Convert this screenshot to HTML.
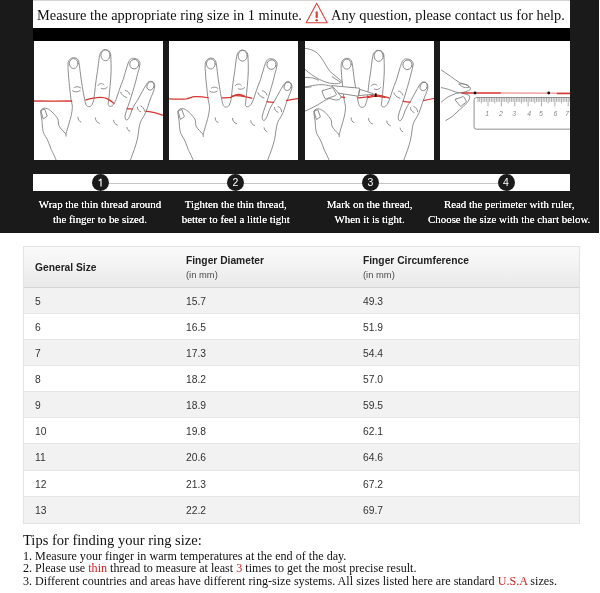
<!DOCTYPE html>
<html><head><meta charset="utf-8">
<style>
*{margin:0;padding:0;box-sizing:border-box}
html,body{width:600px;height:593px;overflow:hidden;background:#fff}
body{position:relative;will-change:transform;font-family:"Liberation Sans",sans-serif;color:#222}
#dark{position:absolute;left:0;top:0;width:599px;height:233px;background:#1a1a1a}
#strip{position:absolute;left:33px;top:0;width:537px;height:41px;background:#000}
#hdr{position:absolute;left:33px;top:0;width:537px;height:28px;border-top:1px solid #d4d4d4;background:#fff;font-family:"Liberation Serif",serif;font-size:15px;color:#111;line-height:27px;white-space:nowrap}
#hdr span{position:absolute;top:1px;transform:scaleX(.958);transform-origin:0 0}
.panel svg{filter:blur(.35px)}
.panel{position:absolute;top:41px;height:119px;background:#fff;overflow:hidden}
#bar{position:absolute;left:33px;top:174px;width:537px;height:17px;background:#fff}
#bar .ln{position:absolute;left:67px;top:9px;width:406px;height:1px;background:#c4c4c4}
.c{position:absolute;top:174px;width:17px;height:17px;border-radius:8.5px;background:#1a1a1a;color:#fff;font-size:10.5px;line-height:17px;text-align:center}
.cap{position:absolute;font-family:"Liberation Serif",serif;color:#fff;font-size:10.9px;line-height:15.3px;text-shadow:0 0 .6px #fff;text-align:center;white-space:nowrap;width:200px}
#tbl{position:absolute;left:23px;top:246px;width:557px;height:278px;border:1px solid #e3e3e3;background:#fff}
.th{position:absolute;left:0;top:0;width:555px;height:41px;background:linear-gradient(#fafafa,#f3f3f3 45%,#e9e9e9);border-bottom:1px solid #d6d6d6}
.r{position:absolute;left:0;width:555px;height:26px;border-bottom:1px solid #e6e6e6;font-size:10.3px;line-height:27px;color:#333}
.r.o{background:#f2f2f2}
.r:last-child{border-bottom:0}
.r span,.th span{position:absolute;white-space:nowrap}
.th b{font-size:10.25px;color:#222}
.th i{font-style:normal;font-size:9.4px;color:#4a4a4a}
#tips{position:absolute;left:23px;top:531px;font-family:"Liberation Serif",serif;color:#111;white-space:nowrap}
#tips h3{font-weight:normal;font-size:14.5px;line-height:19px}
#tips p{font-size:12.12px;line-height:12.45px}
.red{color:#c22}
</style></head><body>
<div id="dark"></div>
<div id="strip"></div>
<div id="hdr"><span style="left:4px">Measure the appropriate ring size in 1 minute.</span><svg style="position:absolute;left:271px;top:0" width="26" height="27" viewBox="0 0 26 27" fill="none"><path d="M12.7 2.2L2.2 21.8H23.2Z" stroke="#d9433d" stroke-width="1.1" stroke-linejoin="round"/><path d="M12.7 11.3V16.2" stroke="#d9433d" stroke-width="2.2" stroke-linecap="round"/><circle cx="12.7" cy="19.3" r="1.2" fill="#d9433d"/></svg><span style="left:298px">Any question, please contact us for help.</span></div>
<div class="panel" id="p1" style="left:34px;width:129px"><svg viewBox="0 0 600 554" width="130" height="120" style="position:absolute;left:0;top:0" fill="none" stroke="#808080" stroke-width="4.1" stroke-linecap="round" stroke-linejoin="round">
<path d="M103 552C92 525 84 510 79 500C72 480 66 465 61 454C50 435 44 427 42 417C38 400 38 385 37 370L31 332C29 318 38 310 48 310C58 310 66 314 70 317C80 323 88 332 93 338C102 348 110 358 112 366C113 375 112 382 114 389C118 398 125 406 131 412L147 429L148 439"/>
<path d="M147 429C152 415 156 400 159 389C165 370 170 352 173 338C176 320 177 310 177 300C176 290 173 280 171 271C168 250 166 230 164 210C161 185 159 160 158 140C157 128 156 118 157 107C158 88 170 77 183 77C197 77 205 85 207 97C210 112 211 126 213 140C216 165 219 188 223 210C226 232 230 252 234 271C236 282 238 290 241 296C246 306 262 306 268 294C272 286 274 278 276 271C279 250 281 230 283 210C286 185 289 162 293 140C296 115 299 92 302 70C306 50 316 40 328 40C342 40 352 48 354 62C356 88 356 114 356 140C355 165 353 188 351 210C349 232 347 252 345 271C344 280 342 287 342 293C344 304 358 304 364 296C367 292 368 291 370 289C374 282 376 276 379 270C384 256 388 242 393 228C399 210 405 194 412 177C418 156 424 136 430 116C433 106 436 97 440 90C446 82 452 79 459 80C470 80 479 84 484 90C488 95 490 101 489 108C487 122 483 135 479 149C474 170 469 190 463 209C458 225 454 241 449 256C444 272 438 290 433 304C428 318 423 332 420 347C420 360 424 366 429 365C435 362 439 354 442 347C446 336 450 325 454 314C460 300 468 288 477 275C485 261 492 247 500 233C506 222 512 211 519 200C524 191 530 186 538 186C546 186 551 190 554 195C558 203 558 211 556 219C552 232 547 244 542 256C535 275 528 292 524 307C520 322 514 335 507 347C500 357 495 366 491 375C487 386 486 397 484 408C482 424 480 439 477 454C473 470 468 486 463 501C457 518 450 534 444 552"/>
<ellipse cx="183" cy="104" rx="20" ry="23"/>
<ellipse cx="330" cy="66" rx="21" ry="25"/>
<ellipse cx="463" cy="107" rx="21" ry="22" transform="rotate(15 463 107)"/>
<ellipse cx="538" cy="207" rx="16" ry="20" transform="rotate(20 538 207)"/>
<path d="M33 321L49 314L61 347L44 359Z"/>
<path d="M185 216C190 210 205 208 216 217M178 230C188 237 203 237 213 229"/>
<path d="M295 205C300 196 315 192 323 202M311 219C320 224 332 221 339 212"/>
<path d="M400 237C401 245 415 258 428 261M421 228C430 228 440 238 442 247"/>
<path d="M477 305C476 315 485 325 493 327M493 300C502 302 510 314 510 324"/>
<path d="M203 352C202 362 209 372 216 374"/>
<path d="M283 355C283 367 292 378 302 380"/>
<path d="M367 366C367 376 376 386 384 388"/>
<path d="M429 399C429 407 435 414 442 416"/>
<g stroke="#d8352f" stroke-width="5.8" stroke-linecap="butt">
<path d="M0 277C60 278 120 278 176 277"/>
<path d="M237 273C250 269 262 266 274 264C285 262 296 260 307 260C320 260 330 262 339 267C350 273 360 281 370 289"/>
<path d="M428 312L456 314"/>
<path d="M514 324C528 326 542 328 556 331C570 334 582 338 600 345"/>
</g>
</svg></div>
<div class="panel" id="p2" style="left:169px;width:129px"><svg viewBox="0 0 600 554" width="130" height="120" style="position:absolute;left:0;top:0" fill="none" stroke="#808080" stroke-width="4.1" stroke-linecap="round" stroke-linejoin="round">
<g transform="translate(10 2)"><path d="M103 552C92 525 84 510 79 500C72 480 66 465 61 454C50 435 44 427 42 417C38 400 38 385 37 370L31 332C29 318 38 310 48 310C58 310 66 314 70 317C80 323 88 332 93 338C102 348 110 358 112 366C113 375 112 382 114 389C118 398 125 406 131 412L147 429L148 439"/>
<path d="M147 429C152 415 156 400 159 389C165 370 170 352 173 338C176 320 177 310 177 300C176 290 173 280 171 271C168 250 166 230 164 210C161 185 159 160 158 140C157 128 156 118 157 107C158 88 170 77 183 77C197 77 205 85 207 97C210 112 211 126 213 140C216 165 219 188 223 210C226 232 230 252 234 271C236 282 238 290 241 296C246 306 262 306 268 294C272 286 274 278 276 271C279 250 281 230 283 210C286 185 289 162 293 140C296 115 299 92 302 70C306 50 316 40 328 40C342 40 352 48 354 62C356 88 356 114 356 140C355 165 353 188 351 210C349 232 347 252 345 271C344 280 342 287 342 293C344 304 358 304 364 296C367 292 368 291 370 289C374 282 376 276 379 270C384 256 388 242 393 228C399 210 405 194 412 177C418 156 424 136 430 116C433 106 436 97 440 90C446 82 452 79 459 80C470 80 479 84 484 90C488 95 490 101 489 108C487 122 483 135 479 149C474 170 469 190 463 209C458 225 454 241 449 256C444 272 438 290 433 304C428 318 423 332 420 347C420 360 424 366 429 365C435 362 439 354 442 347C446 336 450 325 454 314C460 300 468 288 477 275C485 261 492 247 500 233C506 222 512 211 519 200C524 191 530 186 538 186C546 186 551 190 554 195C558 203 558 211 556 219C552 232 547 244 542 256C535 275 528 292 524 307C520 322 514 335 507 347C500 357 495 366 491 375C487 386 486 397 484 408C482 424 480 439 477 454C473 470 468 486 463 501C457 518 450 534 444 552"/>
<ellipse cx="183" cy="104" rx="20" ry="23"/>
<ellipse cx="330" cy="66" rx="21" ry="25"/>
<ellipse cx="463" cy="107" rx="21" ry="22" transform="rotate(15 463 107)"/>
<ellipse cx="538" cy="207" rx="16" ry="20" transform="rotate(20 538 207)"/>
<path d="M33 321L49 314L61 347L44 359Z"/>
<path d="M185 216C190 210 205 208 216 217M178 230C188 237 203 237 213 229"/>
<path d="M295 205C300 196 315 192 323 202M311 219C320 224 332 221 339 212"/>
<path d="M400 237C401 245 415 258 428 261M421 228C430 228 440 238 442 247"/>
<path d="M477 305C476 315 485 325 493 327M493 300C502 302 510 314 510 324"/>
<path d="M203 352C202 362 209 372 216 374"/>
<path d="M283 355C283 367 292 378 302 380"/>
<path d="M367 366C367 376 376 386 384 388"/>
<path d="M429 399C429 407 435 414 442 416"/>
</g>
<g stroke="#d8352f" stroke-width="5.8" stroke-linecap="butt">
<path d="M0 267C30 268 60 268 80 267C95 264 105 258 120 257C135 256 150 257 183 262"/>
<path d="M243 263C260 262 272 262 285 260C292 257 295 253 300 252C310 251 320 252 330 253C337 254 343 255 350 257C362 259 374 262 385 265"/>
<path d="M290 257C300 252 310 247 320 247C332 247 342 251 350 255"/>
<path d="M450 280C462 282 474 283 485 283"/>
<path d="M540 275C560 272 580 268 600 265"/>
</g>
</svg></div>
<div class="panel" id="p3" style="left:305px;width:129px"><svg viewBox="0 0 600 554" width="130" height="120" style="position:absolute;left:0;top:0" fill="none" stroke="#808080" stroke-width="4.1" stroke-linecap="round" stroke-linejoin="round">
<g transform="translate(10 3)"><path d="M103 552C92 525 84 510 79 500C72 480 66 465 61 454C50 435 44 427 42 417C38 400 38 385 37 370L31 332C29 318 38 310 48 310C58 310 66 314 70 317C80 323 88 332 93 338C102 348 110 358 112 366C113 375 112 382 114 389C118 398 125 406 131 412L147 429L148 439"/>
<path d="M147 429C152 415 156 400 159 389C165 370 170 352 173 338C176 320 177 310 177 300C176 290 173 280 171 271C168 250 166 230 164 210C161 185 159 160 158 140C157 128 156 118 157 107C158 88 170 77 183 77C197 77 205 85 207 97C210 112 211 126 213 140C216 165 219 188 223 210C226 232 230 252 234 271C236 282 238 290 241 296C246 306 262 306 268 294C272 286 274 278 276 271C279 250 281 230 283 210C286 185 289 162 293 140C296 115 299 92 302 70C306 50 316 40 328 40C342 40 352 48 354 62C356 88 356 114 356 140C355 165 353 188 351 210C349 232 347 252 345 271C344 280 342 287 342 293C344 304 358 304 364 296C367 292 368 291 370 289C374 282 376 276 379 270C384 256 388 242 393 228C399 210 405 194 412 177C418 156 424 136 430 116C433 106 436 97 440 90C446 82 452 79 459 80C470 80 479 84 484 90C488 95 490 101 489 108C487 122 483 135 479 149C474 170 469 190 463 209C458 225 454 241 449 256C444 272 438 290 433 304C428 318 423 332 420 347C420 360 424 366 429 365C435 362 439 354 442 347C446 336 450 325 454 314C460 300 468 288 477 275C485 261 492 247 500 233C506 222 512 211 519 200C524 191 530 186 538 186C546 186 551 190 554 195C558 203 558 211 556 219C552 232 547 244 542 256C535 275 528 292 524 307C520 322 514 335 507 347C500 357 495 366 491 375C487 386 486 397 484 408C482 424 480 439 477 454C473 470 468 486 463 501C457 518 450 534 444 552"/>
<ellipse cx="183" cy="104" rx="20" ry="23"/>
<ellipse cx="330" cy="66" rx="21" ry="25"/>
<ellipse cx="463" cy="107" rx="21" ry="22" transform="rotate(15 463 107)"/>
<ellipse cx="538" cy="207" rx="16" ry="20" transform="rotate(20 538 207)"/>
<path d="M33 321L49 314L61 347L44 359Z"/>
<path d="M185 216C190 210 205 208 216 217M178 230C188 237 203 237 213 229"/>
<path d="M295 205C300 196 315 192 323 202M311 219C320 224 332 221 339 212"/>
<path d="M400 237C401 245 415 258 428 261M421 228C430 228 440 238 442 247"/>
<path d="M477 305C476 315 485 325 493 327M493 300C502 302 510 314 510 324"/>
<path d="M203 352C202 362 209 372 216 374"/>
<path d="M283 355C283 367 292 378 302 380"/>
<path d="M367 366C367 376 376 386 384 388"/>
<path d="M429 399C429 407 435 414 442 416"/>
</g>
<g stroke="#d8352f" stroke-width="5.8" stroke-linecap="butt">
<path d="M165 258L185 261"/>
<path d="M243 263C258 262 272 260 286 258C300 255 312 250 324 249C340 249 355 253 390 264"/>
<path d="M286 262C300 260 312 256 324 254C340 254 355 258 372 262"/>
<path d="M450 278C462 281 474 282 488 282"/>
<path d="M545 275C565 272 582 268 600 264"/>
</g>
<g fill="#fff">
<path d="M0 34C31 37 55 50 69 69C82 88 92 104 100 118C108 130 114 140 121 146L171 187L165 193C150 198 138 198 125 196C108 194 95 190 81 184C62 176 45 165 31 156C20 149 10 140 0 131" />
<path d="M125 165L165 191"/>
<path d="M0 168C14 168 26 169 37 171C46 173 54 177 62 181"/>
<path d="M125 206L252 218L246 255L149 240Z"/>
<path d="M255 224L315 243L316 246L249 252Z"/>
<path d="M0 212C25 208 45 204 62 202C85 201 105 203 121 209C132 214 138 220 143 227L165 255C166 263 162 269 156 271C148 273 140 273 134 271C126 269 118 266 112 265C95 272 78 282 62 293C40 305 20 315 0 324"/>
<path d="M82 229L124 216Q129 215 131 220L144 245Q146 250 141 252L98 267Q93 268 91 263L79 235Q77 230 82 229Z"/>
<path d="M0 215L28 212"/>
</g>
<rect x="322" y="241" width="9" height="17" rx="3" fill="#111" stroke="none"/>
</svg></div>
<div class="panel" id="p4" style="left:440px;width:130px"><svg viewBox="0 0 600 554" width="130" height="120" style="position:absolute;left:1px;top:0" fill="none" stroke="#808080" stroke-width="4.1" stroke-linecap="round" stroke-linejoin="round">
<path d="M0 133C15 143 30 153 44 163C58 173 72 184 87 193C100 198 112 200 123 204C130 208 136 214 136 220C135 225 132 228 128 229C118 233 108 236 98 238"/>
<path d="M84 199C96 194 122 200 130 213C118 219 94 214 84 199Z"/>
<path d="M0 215C12 217 22 220 33 223C44 227 55 231 65 235C75 238 85 239 95 239"/>
<path d="M0 283C10 274 22 265 33 258C46 251 58 246 71 242C80 240 90 239 98 239"/>
<path d="M101 242C110 244 120 246 128 250C132 255 133 261 131 267C128 275 123 282 117 288C108 298 98 307 87 316C76 326 66 336 55 346C44 354 33 361 22 367"/>
<path d="M69 268L101 257Q105 256 107 260L116 277Q118 281 114 284L93 300Q89 303 87 299L66 273Q64 269 69 268Z"/>
<path d="M600 261H163Q152.600 261 152.600 272V396Q152.600 407 163 407H600"/>
<path stroke-width="3" stroke-linecap="butt" d="M170.7 261V281.0M178.4 261V281.0M186.2 261V288.0M193.9 261V281.0M201.6 261V281.0M209.3 261V281.0M217.0 261V301.5M224.7 261V281.0M232.4 261V281.0M240.1 261V281.0M247.9 261V288.0M255.6 261V281.0M263.3 261V281.0M271.0 261V281.0M278.7 261V301.5M286.4 261V281.0M294.1 261V281.0M301.8 261V281.0M309.6 261V288.0M317.3 261V281.0M325.0 261V281.0M332.7 261V281.0M340.4 261V301.5M348.1 261V281.0M355.8 261V281.0M363.5 261V281.0M371.2 261V288.0M379.0 261V281.0M386.7 261V281.0M394.4 261V281.0M402.1 261V301.5M409.8 261V281.0M417.5 261V281.0M425.2 261V281.0M433.0 261V288.0M440.7 261V281.0M448.4 261V281.0M456.1 261V281.0M463.8 261V301.5M471.5 261V281.0M479.2 261V281.0M486.9 261V281.0M494.7 261V288.0M502.4 261V281.0M510.1 261V281.0M517.8 261V281.0M525.5 261V301.5M533.2 261V281.0M540.9 261V281.0M548.6 261V281.0M556.4 261V288.0M564.1 261V281.0M571.8 261V281.0M579.5 261V281.0M587.2 261V301.5M594.9 261V281.0"/>
<g fill="#8a8a8a" stroke="none" font-family="Liberation Sans, sans-serif" font-style="italic" font-size="32" text-anchor="middle"><text x="213" y="345">1</text><text x="277" y="345">2</text><text x="338" y="345">3</text><text x="407" y="345">4</text><text x="461" y="345">5</text><text x="528" y="345">6</text><text x="583" y="345">7</text></g>
<g stroke="#d8352f" stroke-width="5.8" stroke-linecap="butt">
<path stroke-width="4" stroke="#e0605a" d="M270 240L600 241"/>
<path stroke-width="7" d="M95 240L275 240M535 242L600 242"/>
</g>
<circle cx="157" cy="240" r="6.5" fill="#111" stroke="none"/>
<circle cx="497" cy="240" r="6.5" fill="#111" stroke="none"/>
</svg></div>
<div id="bar"><div class="ln"></div></div>
<div class="c" style="left:92px"><svg width="17" height="17" viewBox="0 0 17 17" style="display:block"><path d="M6.7 6.6C7.8 6.2 8.6 5.5 9 4.7V12.4" fill="none" stroke="#fff" stroke-width="1.15"/></svg></div>
<div class="c" style="left:226.8px">2</div>
<div class="c" style="left:362px">3</div>
<div class="c" style="left:497.5px">4</div>
<div class="cap" style="left:0px;top:197px">Wrap the thin thread around<br>the finger to be sized.</div>
<div class="cap" style="left:135.7px;top:197px">Tighten the thin thread,<br>better to feel a little tight</div>
<div class="cap" style="left:269.6px;top:197px">Mark on the thread,<br>When it is tight.</div>
<div class="cap" style="left:409.2px;top:197px">Read the perimeter with ruler,<br>Choose the size with the chart below.</div>
<div id="tbl">
<div class="th"><span style="left:11px;top:10px"><b>General Size</b></span><span style="left:162px;top:3px"><b>Finger Diameter</b></span><span style="left:162px;top:17px"><i>(in mm)</i></span><span style="left:339px;top:3px"><b>Finger Circumference</b></span><span style="left:339px;top:17px"><i>(in mm)</i></span></div>
<div class="r o" style="top:41px;height:26px"><span style="left:11px">5</span><span style="left:162px">15.7</span><span style="left:339px">49.3</span></div>
<div class="r" style="top:67px;height:26px"><span style="left:11px">6</span><span style="left:162px">16.5</span><span style="left:339px">51.9</span></div>
<div class="r o" style="top:93px;height:26px"><span style="left:11px">7</span><span style="left:162px">17.3</span><span style="left:339px">54.4</span></div>
<div class="r" style="top:119px;height:26px"><span style="left:11px">8</span><span style="left:162px">18.2</span><span style="left:339px">57.0</span></div>
<div class="r o" style="top:145px;height:26px"><span style="left:11px">9</span><span style="left:162px">18.9</span><span style="left:339px">59.5</span></div>
<div class="r" style="top:171px;height:26px"><span style="left:11px">10</span><span style="left:162px">19.8</span><span style="left:339px">62.1</span></div>
<div class="r o" style="top:197px;height:27px"><span style="left:11px">11</span><span style="left:162px">20.6</span><span style="left:339px">64.6</span></div>
<div class="r" style="top:224px;height:26px"><span style="left:11px">12</span><span style="left:162px">21.3</span><span style="left:339px">67.2</span></div>
<div class="r o" style="top:250px;height:26px"><span style="left:11px">13</span><span style="left:162px">22.2</span><span style="left:339px">69.7</span></div>
</div>
<div id="tips"><h3>Tips for finding your ring size:</h3>
<p>1. Measure your finger in warm temperatures at the end of the day.</p>
<p>2. Please use <span class="red">thin</span> thread to measure at least <span class="red">3</span> times to get the most precise result.</p>
<p>3. Different countries and areas have different ring-size systems. All sizes listed here are standard <span class="red">U.S.A</span> sizes.</p></div>
</body></html>
